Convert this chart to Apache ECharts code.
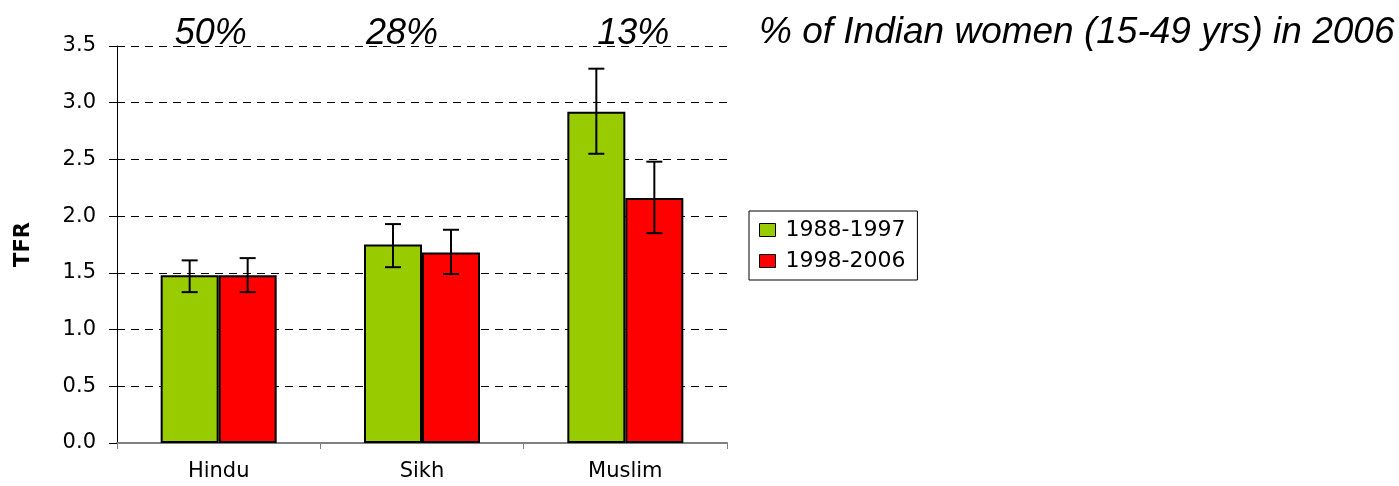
<!DOCTYPE html>
<html>
<head>
<meta charset="utf-8">
<script src="https://cdn.jsdelivr.net/npm/echarts@6/dist/echarts.min.js"></script>
<style>
  html, body { margin: 0; padding: 0; background: #fff; }
  #chart { width: 1399px; height: 486px; }
</style>
</head>
<body>
<div id="chart"></div>
<script>
const categories = ['Hindu', 'Sikh', 'Muslim'];
const shareLabels = ['50%', '28%', '13%'];
const seriesNames = ['1988-1997', '1998-2006'];

const tfrEarly = [1.48, 1.75, 2.92];
const tfrEarlyLow = [1.33, 1.55, 2.55];
const tfrEarlyHigh = [1.61, 1.93, 3.30];

const tfrLate = [1.48, 1.68, 2.16];
const tfrLateLow = [1.33, 1.49, 1.85];
const tfrLateHigh = [1.63, 1.88, 2.48];

const yTicks = ['0.0', '0.5', '1.0', '1.5', '2.0', '2.5', '3.0', '3.5'];

const BAR_W = 58;
const smallFont = 'DejaVu Sans';
const bigFont = '"Liberation Sans", Arial, sans-serif';

// error bar as custom series: side -1 = left bar, +1 = right bar
function errorSeries(low, high, side) {
    return {
        type: 'custom',
        xAxisIndex: 0,
        yAxisIndex: 0,
        z: 5,
        data: low.map((v, i) => [i, v, high[i]]),
        renderItem: function (params, api) {
            const lo = api.coord([api.value(0), api.value(1)]);
            const hi = api.coord([api.value(0), api.value(2)]);
            const x = lo[0] + side * BAR_W / 2;
            const cap = 8;
            const style = { stroke: '#000', lineWidth: 2 };
            return {
                type: 'group',
                children: [
                    { type: 'line', shape: { x1: x, y1: lo[1], x2: x, y2: hi[1] }, style },
                    { type: 'line', shape: { x1: x - cap, y1: hi[1], x2: x + cap, y2: hi[1] }, style },
                    { type: 'line', shape: { x1: x - cap, y1: lo[1], x2: x + cap, y2: lo[1] }, style }
                ]
            };
        }
    };
}

// the % labels in the source sit a little off the category centres
const shareNudge = [[0, 16, 0, 0], [0, 40, 0, 0], [0, 0, 0, 16]];

const myChart = echarts.init(document.getElementById('chart'));
const option = {
    backgroundColor: '#fff',
    animation: false,
    title: {
        text: '% of Indian women (15-49 yrs) in 2006',
        left: 754,
        top: 9,
        textStyle: {
            fontFamily: bigFont,
            fontStyle: 'italic',
            fontWeight: 'normal',
            fontSize: 37,
            color: '#000'
        }
    },
    legend: {
        left: 749,
        top: 211,
        orient: 'vertical',
        data: seriesNames,
        backgroundColor: '#fff',
        borderColor: '#000',
        borderWidth: 1,
        padding: [8, 12, 8, 10],
        itemWidth: 16,
        itemHeight: 13,
        itemGap: 9,
        icon: 'rect',
        itemStyle: { borderColor: '#000', borderWidth: 1 },
        textStyle: { fontFamily: smallFont, fontSize: 22, color: '#000', padding: [0, 0, 0, 5] }
    },
    grid: { left: 117, top: 46, width: 610, height: 397 },
    xAxis: [
        {
            type: 'category',
            data: categories,
            axisLine: { lineStyle: { color: '#808080', width: 2 } },
            axisTick: { show: true, length: 6, lineStyle: { color: '#808080' } },
            axisLabel: { margin: 18, fontFamily: smallFont, fontSize: 21, color: '#000' }
        },
        {
            type: 'category',
            position: 'top',
            data: shareLabels.map((s, i) => ({ value: s, textStyle: { padding: shareNudge[i] } })),
            axisLine: { show: false },
            axisTick: { show: false },
            axisLabel: {
                margin: -6,
                fontFamily: bigFont,
                fontStyle: 'italic',
                fontSize: 36,
                color: '#000'
            }
        }
    ],
    yAxis: {
        type: 'value',
        min: 0,
        max: 3.5,
        interval: 0.5,
        name: 'TFR',
        nameLocation: 'middle',
        nameGap: 83,
        nameTextStyle: { fontFamily: smallFont, fontWeight: 'bold', fontSize: 21, color: '#000' },
        axisLine: { show: true, lineStyle: { color: '#000', width: 1 } },
        axisTick: { show: true, length: 8, lineStyle: { color: '#000' } },
        axisLabel: {
            margin: 21,
            fontFamily: smallFont,
            fontSize: 21,
            color: '#000',
            formatter: v => yTicks[Math.round(v / 0.5)]
        },
        splitLine: { show: true, lineStyle: { color: '#000', width: 1, type: [8, 6] } }
    },
    series: [
        {
            name: seriesNames[0],
            type: 'bar',
            data: tfrEarly,
            barWidth: BAR_W,
            barGap: 0,
            itemStyle: { color: '#99CC00', borderColor: '#000', borderWidth: 2 }
        },
        {
            name: seriesNames[1],
            type: 'bar',
            data: tfrLate,
            barWidth: BAR_W,
            barGap: 0,
            itemStyle: { color: '#FF0000', borderColor: '#000', borderWidth: 2 }
        },
        errorSeries(tfrEarlyLow, tfrEarlyHigh, -1),
        errorSeries(tfrLateLow, tfrLateHigh, 1)
    ]
};
myChart.setOption(option);
</script>
</body>
</html>
